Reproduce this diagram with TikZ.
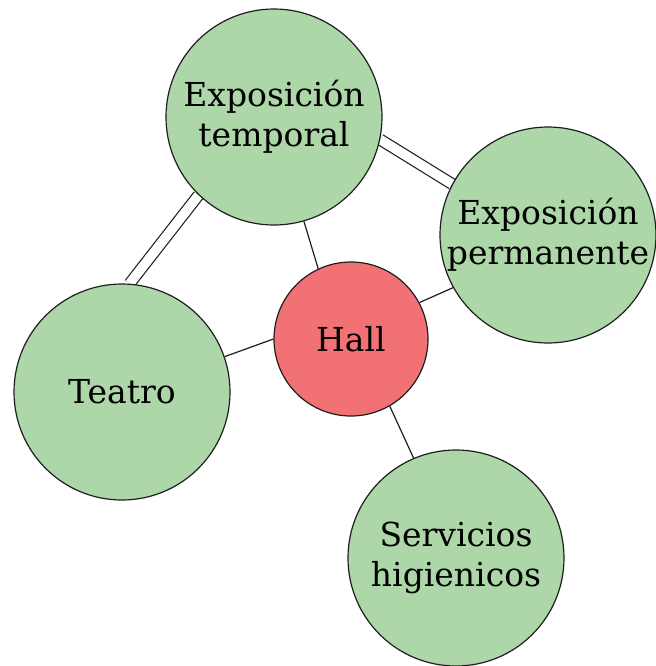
\documentclass[tikz,border=0pt]{standalone}
\usepackage{fontspec}
\setmainfont{DejaVu Serif}
\usepackage{xcolor}
\usepackage{tikz}
\usetikzlibrary{backgrounds}
\definecolor{SalaGreen}{HTML}{ADD7A9}
\definecolor{HallRed}{HTML}{F17174}
\definecolor{Ink}{HTML}{1E1E1E}

\begin{document}
\begin{tikzpicture}[x=0.5pt,y=-0.5pt,
  sala/.style={circle,draw=Ink,line width=0.6pt,fill=SalaGreen,inner sep=0pt,
    minimum size=108pt,align=center,font=\fontsize{16.5}{20}\selectfont},
  hallbox/.style={sala,fill=HallRed,minimum size=77pt},
  enlace/.style={draw=Ink,line width=0.6pt},
  doble/.style={enlace,double=white,double distance=4.8pt}]
\useasboundingbox (0,0) rectangle (656,666);
\node[sala] (tem) at (274,117) {Exposición\\temporal};
\node[sala] (per) at (548,235) {Exposición\\permanente};
\node[hallbox] (hall) at (351,339) {Hall};
\node[sala] (tea) at (122,392) {Teatro};
\node[sala] (ser) at (456,558) {Servicios\\higienicos};
\begin{scope}[on background layer]
\foreach \a/\b in {tem.-74/hall.115,hall.28/per.209,hall.180/tea.19,hall.-60/ser.113}
  \draw[enlace] (\a) -- (\b);
\foreach \a/\b in {tem.226/tea.86,tem.-12/per.152}
  \draw[doble] (\a) -- (\b);
\end{scope}
\end{tikzpicture}
\end{document}
